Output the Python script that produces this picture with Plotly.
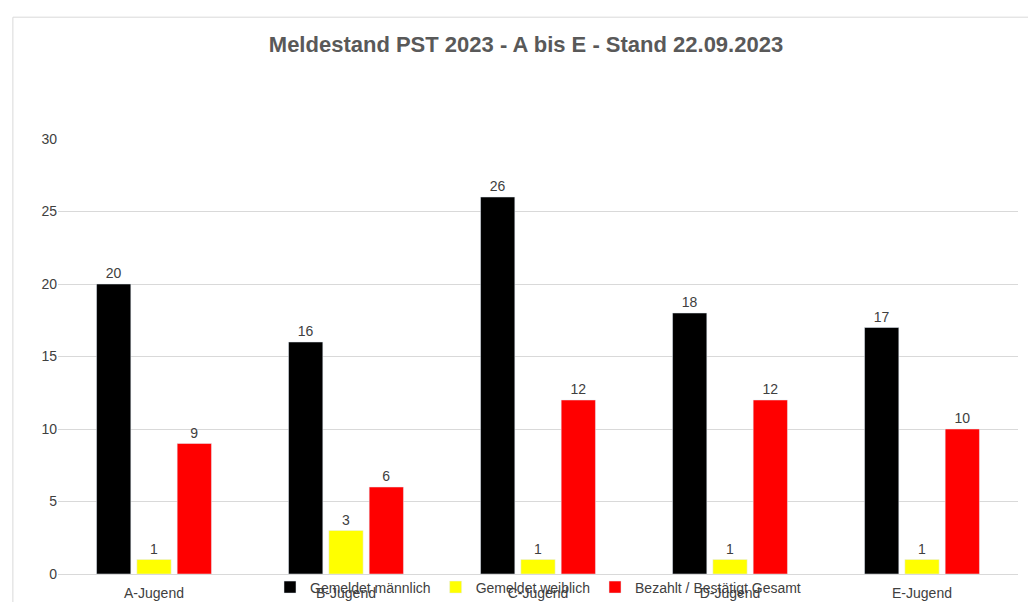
import plotly.graph_objects as go

categories = ["A-Jugend", "B-Jugend", "C-Jugend", "D-Jugend", "E-Jugend"]
maennlich = [20, 16, 26, 18, 17]
weiblich = [1, 3, 1, 1, 1]
bezahlt = [9, 6, 12, 12, 10]

series = [("Gemeldet männlich", maennlich, "#000000"),
          ("Gemeldet weiblich", weiblich, "#FFFF00"),
          ("Bezahlt / Bestätigt Gesamt", bezahlt, "#FF0000")]

fig = go.Figure()
for name, vals, col in series:
    fig.add_trace(go.Bar(x=categories, y=vals, name=name, marker_color=col,
                         text=vals, textposition="outside",
                         outsidetextfont=dict(size=14, color="#404040"),
                         textfont=dict(size=14, color="#404040"), cliponaxis=False))

fig.update_layout(
    width=1036, height=602, barmode="group", bargap=0.37, bargroupgap=0.15,
    plot_bgcolor="white", paper_bgcolor="white",
    font=dict(family="Liberation Sans, Arial", color="#404040"),
    title=dict(text="<b>Meldestand PST 2023 - A bis E - Stand 22.09.2023</b>",
               x=0.5, xanchor="center", y=0.94, yanchor="middle",
               font=dict(size=22, color="#595959")),
    margin=dict(l=50, r=26, t=131, b=36, autoexpand=False),
    yaxis=dict(range=[0, 30], dtick=5, showgrid=True, gridcolor="#D9D9D9",
               tickfont=dict(size=14, color="#404040"), zeroline=False),
    xaxis=dict(tickfont=dict(size=14, color="#404040"), showline=True,
               linecolor="#D9D9D9", ticklabelstandoff=6),
    legend=dict(orientation="h", x=0.5, xanchor="center", yref="container",
                y=0.064, yanchor="top",
                font=dict(size=14, color="#404040"), bgcolor="rgba(0,0,0,0)"),
    showlegend=True,
    uniformtext=dict(minsize=14),
)
fig.add_shape(type="rect", xref="paper", yref="paper", x0=-0.047, x1=1.024,
              y0=-0.08, y1=1.28, line=dict(color="#D9D9D9", width=1))
fig.write_html("out.html")
